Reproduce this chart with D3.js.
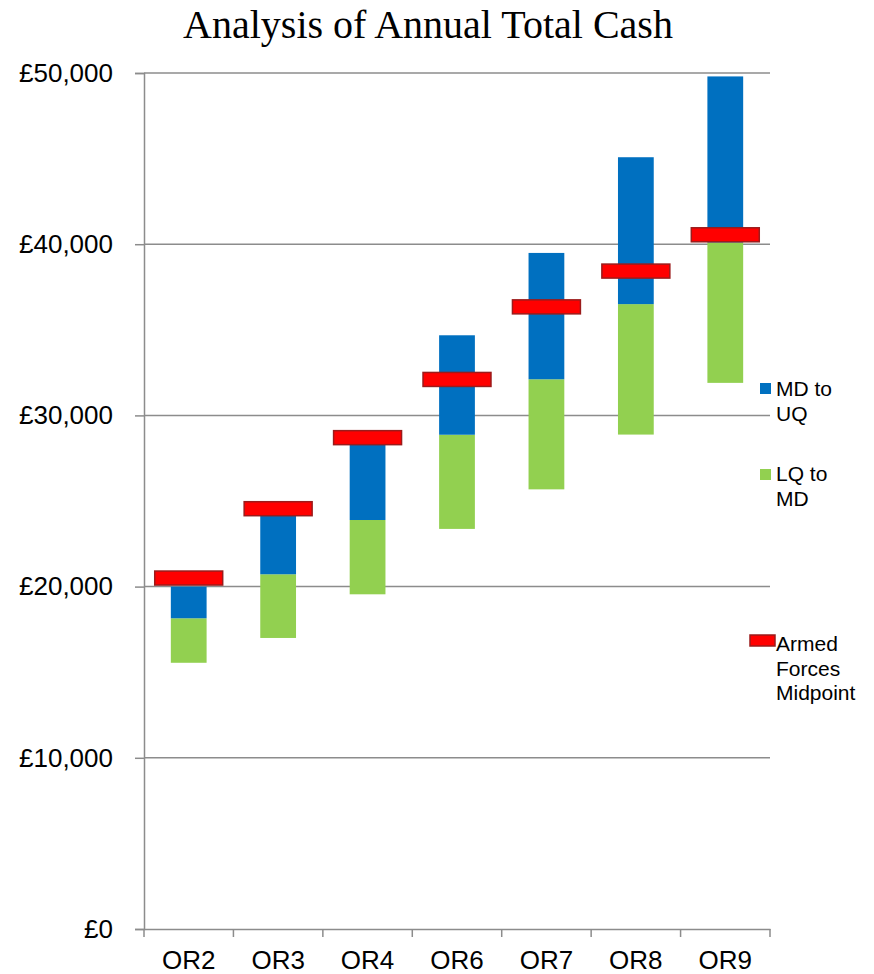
<!DOCTYPE html>
<html>
<head>
<meta charset="utf-8">
<script src="https://cdn.jsdelivr.net/npm/d3@7/dist/d3.min.js"></script>
<style>
  html, body { margin: 0; padding: 0; background: #fff; }
  svg { display: block; }
</style>
</head>
<body>
<svg id="chart" width="874" height="974"></svg>
<script>
// ---- Data ----
const categories = ["OR2", "OR3", "OR4", "OR6", "OR7", "OR8", "OR9"];
const lowerQuartile = [15550, 17000, 19550, 23370, 25680, 28880, 31900];
const median        = [18150, 20720, 23890, 28870, 32110, 36500, 40100];
const upperQuartile = [20000, 24150, 28300, 34680, 39490, 45080, 49800];
const armedForcesMidpoint = [20500, 24550, 28700, 32100, 36340, 38430, 40550];
const yTicks = [0, 10000, 20000, 30000, 40000, 50000];
const seriesNames = ["MD to UQ", "LQ to MD", "Armed Forces Midpoint"];

(function () {
// ---- Layout ----
const svg = d3.select("#chart");
const plotLeft = 144, plotRight = 770, plotTop = 73, plotBottom = 929;
const colors = { blue: "#0070C0", green: "#92D050", red: "#FF0000", redStroke: "#9B1B1B", grid: "#8C8C8C" };

const x = d3.scaleBand().domain(categories).range([plotLeft, plotRight]).padding(0);
const y = d3.scaleLinear().domain([0, 50000]).range([plotBottom, plotTop]);
const barW = x.bandwidth() * 0.4;
const markW = x.bandwidth() * 0.76;
const markH = 14;

const fmt = v => "£" + d3.format(",")(v);

// Gridlines
svg.append("g").selectAll("line")
  .data(yTicks.filter(d => d > 0))
  .join("line")
  .attr("x1", plotLeft).attr("x2", plotRight)
  .attr("y1", d => y(d)).attr("y2", d => y(d))
  .attr("stroke", colors.grid).attr("stroke-width", 1.5);

// Y axis
const yAxis = svg.append("g")
  .attr("transform", `translate(${plotLeft},0)`)
  .call(d3.axisLeft(y).tickValues(yTicks).tickFormat(fmt).tickSize(9).tickPadding(22));
yAxis.select(".domain").attr("stroke", colors.grid).attr("stroke-width", 1.5);
yAxis.selectAll(".tick line").attr("stroke", colors.grid).attr("stroke-width", 1.5);
yAxis.selectAll(".tick text")
  .attr("font-family", "'Liberation Sans', Arial, sans-serif")
  .attr("font-size", 26).attr("fill", "#000");

// X axis
const xAxis = svg.append("g")
  .attr("transform", `translate(0,${plotBottom})`)
  .call(d3.axisBottom(x).tickSize(0).tickPadding(0).tickSizeOuter(0));
xAxis.select(".domain").attr("stroke", colors.grid).attr("stroke-width", 1.5);
xAxis.selectAll(".tick text")
  .attr("font-family", "'Liberation Sans', Arial, sans-serif")
  .attr("font-size", 26).attr("fill", "#000")
  .attr("dy", 0).attr("y", 40);
// category boundary ticks
svg.append("g").selectAll("line")
  .data(categories.map(c => x(c)).concat([plotRight]))
  .join("line")
  .attr("x1", d => d).attr("x2", d => d)
  .attr("y1", plotBottom).attr("y2", plotBottom + 8)
  .attr("stroke", colors.grid).attr("stroke-width", 1.5);

// Bars: LQ to MD (green), MD to UQ (blue)
const rows = categories.map((c, i) => ({ c, lq: lowerQuartile[i], md: median[i], uq: upperQuartile[i], af: armedForcesMidpoint[i] }));

svg.append("g").selectAll("rect")
  .data(rows).join("rect")
  .attr("x", d => x(d.c) + x.bandwidth() / 2 - barW / 2)
  .attr("width", barW)
  .attr("y", d => y(d.md))
  .attr("height", d => y(d.lq) - y(d.md))
  .attr("fill", colors.green);

svg.append("g").selectAll("rect")
  .data(rows).join("rect")
  .attr("x", d => x(d.c) + x.bandwidth() / 2 - barW / 2)
  .attr("width", barW)
  .attr("y", d => y(d.uq))
  .attr("height", d => y(d.md) - y(d.uq))
  .attr("fill", colors.blue);

// Armed forces midpoint markers
svg.append("g").selectAll("rect")
  .data(rows).join("rect")
  .attr("x", d => x(d.c) + x.bandwidth() / 2 - markW / 2)
  .attr("width", markW)
  .attr("y", d => y(d.af) - markH / 2)
  .attr("height", markH)
  .attr("fill", colors.red)
  .attr("stroke", colors.redStroke).attr("stroke-width", 1.5);

// Title
svg.append("text")
  .attr("x", 428).attr("y", 38)
  .attr("text-anchor", "middle")
  .attr("font-family", "'Liberation Serif', 'Times New Roman', serif")
  .attr("font-size", 40).attr("fill", "#000")
  .text("Analysis of Annual Total Cash");

// Legend
const legendFont = "'Liberation Sans', Arial, sans-serif";
const legendItems = [
  { lines: ["MD to", "UQ"], y: 396, sw: { x: 760, y: 383, w: 11, h: 11 }, fill: colors.blue, stroke: null },
  { lines: ["LQ to", "MD"], y: 481, sw: { x: 760, y: 469, w: 11, h: 11 }, fill: colors.green, stroke: null },
  { lines: ["Armed", "Forces", "Midpoint"], y: 651, sw: { x: 750, y: 635, w: 25, h: 11 }, fill: colors.red, stroke: colors.redStroke }
];
const lg = svg.append("g");
legendItems.forEach(item => {
  const r = lg.append("rect")
    .attr("x", item.sw.x).attr("y", item.sw.y)
    .attr("width", item.sw.w).attr("height", item.sw.h)
    .attr("fill", item.fill);
  if (item.stroke) r.attr("stroke", item.stroke).attr("stroke-width", 1.5);
  const t = lg.append("text")
    .attr("x", 776).attr("y", item.y)
    .attr("font-family", legendFont).attr("font-size", 21).attr("fill", "#000");
  item.lines.forEach((ln, j) => {
    t.append("tspan").attr("x", 776).attr("dy", j === 0 ? 0 : 24.5).text(ln);
  });
});
})();
</script>
</body>
</html>
